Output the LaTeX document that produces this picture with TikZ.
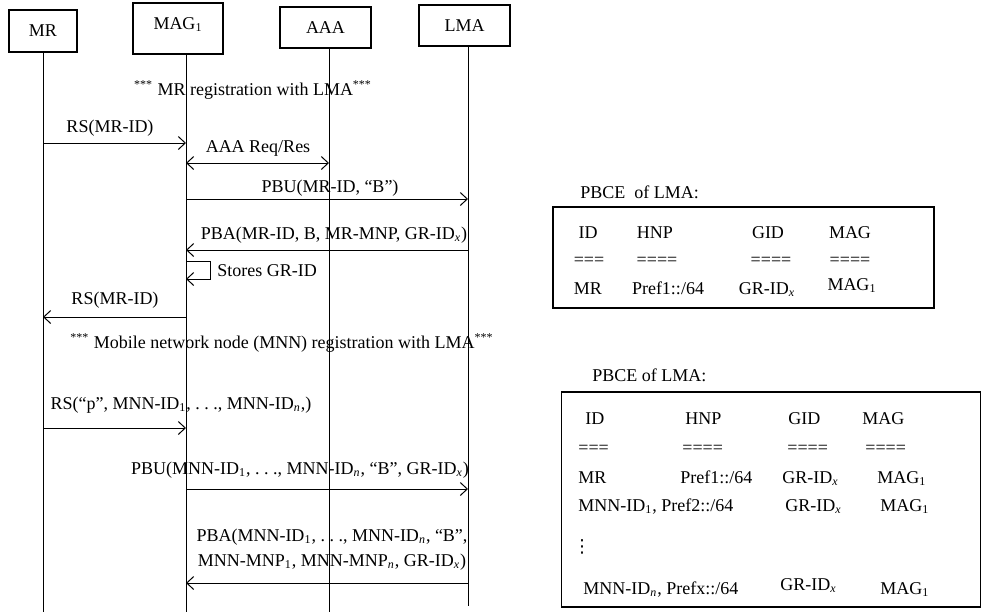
\documentclass[tikz,border=0pt]{standalone}
\usepackage{fontspec}
\setmainfont{Liberation Serif}
\newfontfamily\symfont{DejaVu Sans}
\usetikzlibrary{arrows.meta}
\newcommand{\dts}{.\hspace{0.25em}.\hspace{0.25em}.}

\begin{document}
\begin{tikzpicture}[x=0.5pt,y=-0.5pt,
  font=\fontsize{9}{12.5}\selectfont,
  >={Straight Barb[length=3.5pt,width=6.5pt]},
  ent/.style={draw,line width=0.6pt,inner sep=0pt},
  life/.style={line width=0.5pt},
  msg/.style={line width=0.5pt,->},
  lbl/.style={inner sep=0pt},
  tbox/.style={draw,line width=0.6pt,inner sep=0pt},
  cell/.style={inner sep=0pt,anchor=base}]
\useasboundingbox (0,0) rectangle (982,612);

\node[ent,minimum width=34pt,minimum height=21pt] (mr) at (43,31) {MR};
\node[ent,minimum width=45pt,minimum height=25.5pt,text depth=5pt] (mag) at (178,28.5) {MAG\textsubscript{1}};
\node[ent,minimum width=45.5pt,minimum height=20.5pt] (aaa) at (325.5,27.5) {AAA};
\node[ent,minimum width=45.5pt,minimum height=20.5pt] (lma) at (464.5,25.5) {LMA};

\coordinate (mrT) at (mr.south);
\coordinate (magT) at ([xshift=4pt]mag.south);
\coordinate (aaaT) at ([xshift=1.75pt]aaa.south);
\coordinate (lmaT) at ([xshift=1.75pt]lma.south);
\coordinate (mrB) at (mrT |- 0,612);
\coordinate (magB) at (magT |- 0,612);
\coordinate (aaaB) at (aaaT |- 0,612);
\coordinate (lmaB) at (lmaT |- 0,606);
\draw[life] (mrT) -- (mrB);
\draw[life] (magT) -- (magB);
\draw[life] (aaaT) -- (aaaB);
\draw[life] (lmaT) -- (lmaB);

\node[lbl] (reg1) at (253,90) {\textsuperscript{***} MR registration with LMA\textsuperscript{***}};

\node[lbl] (m1) at (110,128) {RS(MR-ID)};
\draw[msg] (mrT |- 0,143) -- (magT |- 0,143);
\node[lbl] (m2) at (258,148) {AAA Req/Res};
\draw[msg,<->] (magT |- 0,163) -- (aaaT |- 0,163);
\node[lbl] (m3) at (330,188) {PBU(MR-ID, “B”)};
\draw[msg] (magT |- 0,199) -- (lmaT |- 0,199);
\node[lbl] (m4) at (334,235) {PBA(MR-ID, B, MR-MNP, GR-ID\textsubscript{\textit{x}})};
\draw[msg] (lmaT |- 0,250) -- (magT |- 0,250);
\draw[msg] (magT |- 0,261) -- ++(24,0) -- ++(0,18) -- (magT |- 0,279);
\node[lbl,anchor=west] (m5) at (217,271) {Stores GR-ID};
\node[lbl] (m6) at (115,300) {RS(MR-ID)};
\draw[msg] (magT |- 0,317) -- (mrT |- 0,317);

\node[lbl] (reg2) at (282,343) {\textsuperscript{***} Mobile network node (MNN) registration with LMA\textsuperscript{***}};

\node[lbl] (m7) at (181,405) {RS(“p”, MNN-ID\textsubscript{1}, \dts, MNN-ID\textsubscript{\textit{n}},)};
\draw[msg] (mrT |- 0,428) -- (magT |- 0,428);
\node[lbl] (m8) at (300,470) {PBU(MNN-ID\textsubscript{1}, \dts, MNN-ID\textsubscript{\textit{n}}, “B”, GR-ID\textsubscript{\textit{x}})};
\draw[msg] (magT |- 0,489) -- (lmaT |- 0,489);
\node[lbl,align=center] (m9) at (332,550) {PBA(MNN-ID\textsubscript{1}, \dts, MNN-ID\textsubscript{\textit{n}}, “B”,\\
  MNN-MNP\textsubscript{1}, MNN-MNP\textsubscript{\textit{n}}, GR-ID\textsubscript{\textit{x}})};
\draw[msg] (lmaT |- 0,583) -- (magT |- 0,583);

% first binding cache
\node[lbl,anchor=west] (pb1) at (580,192) {PBCE\ \ of LMA:};
\node[tbox,minimum width=190.5pt,minimum height=50.5pt] (tab1) at (743.5,257.5) {};
\node[cell] (a1) at (588,238) {ID};
\node[cell] (a2) at (655,238) {HNP};
\node[cell] (a3) at (768,238) {GID};
\node[cell] (a4) at (850,238) {MAG};
\node[cell] (b1) at (589,265) {===};
\node[cell] (b2) at (657,265) {====};
\node[cell] (b3) at (771,265) {====};
\node[cell] (b4) at (850,265) {====};
\node[cell] (c1) at (588,294) {MR};
\node[cell] (c2) at (668,294) {Pref1::/64};
\node[cell] (c3) at (767,294) {GR-ID\textsubscript{\textit{x}}};
\node[cell] (c4) at (852,290) {MAG\textsubscript{1}};

% second binding cache
\node[lbl,anchor=west] (pb2) at (592,375) {PBCE of LMA:};
\node[tbox,minimum width=209.5pt,minimum height=107.5pt] (tab2) at (771.25,499.5) {};
\node[cell,anchor=base west] (d1) at (585,424) {ID};
\node[cell,anchor=base west] (d2) at (685,424) {HNP};
\node[cell,anchor=base west] (d3) at (788,424) {GID};
\node[cell,anchor=base west] (d4) at (862,424) {MAG};
\node[cell,anchor=base west] (e1) at (578,453) {===};
\node[cell,anchor=base west] (e2) at (682,453) {====};
\node[cell,anchor=base west] (e3) at (787,453) {====};
\node[cell,anchor=base west] (e4) at (865,453) {====};
\node[cell,anchor=base west] (f1) at (578,483) {MR};
\node[cell,anchor=base west] (f2) at (680,483) {Pref1::/64};
\node[cell,anchor=base west] (f3) at (782,483) {GR-ID\textsubscript{\textit{x}}};
\node[cell,anchor=base west] (f4) at (877,483) {MAG\textsubscript{1}};
\node[cell,anchor=base west] (g1) at (578,511) {MNN-ID\textsubscript{1}, Pref2::/64};
\node[cell,anchor=base west] (g3) at (785,511) {GR-ID\textsubscript{\textit{x}}};
\node[cell,anchor=base west] (g4) at (880,511) {MAG\textsubscript{1}};
\node[lbl] (dots) at (582,547) {\symfont ⋮};
\node[cell,anchor=base west] (h1) at (583,594) {MNN-ID\textsubscript{\textit{n}}, Prefx::/64};
\node[cell,anchor=base west] (h3) at (780,590) {GR-ID\textsubscript{\textit{x}}};
\node[cell,anchor=base west] (h4) at (880,594) {MAG\textsubscript{1}};
\end{tikzpicture}
\end{document}
